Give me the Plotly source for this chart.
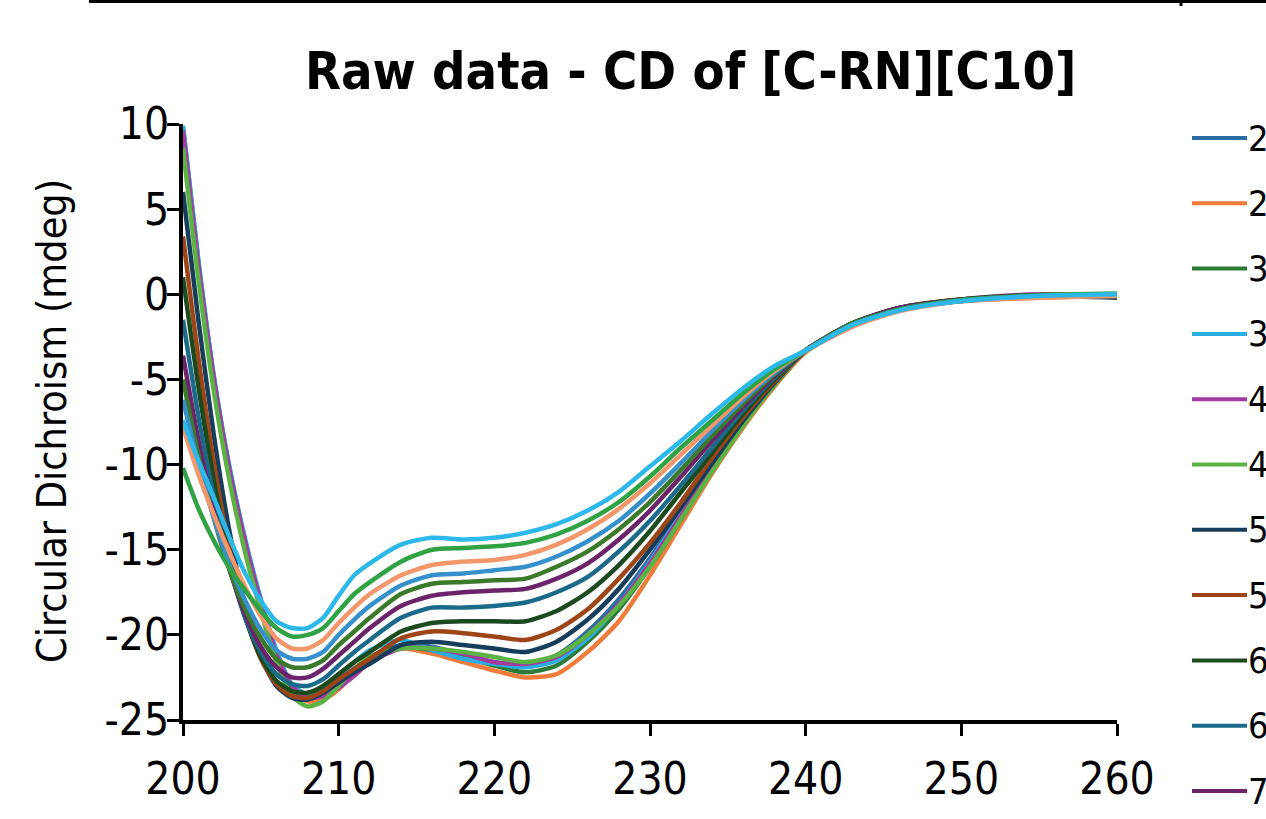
import plotly.graph_objects as go

# wavelength grid (nm) shared by every series
wavelength = [200, 201, 202, 203, 204, 205, 206, 207, 208, 209, 210, 211, 212,
              214, 216, 218, 220, 222, 224, 226, 228, 230, 232, 234, 236, 238,
              240, 243, 246, 250, 255, 260]

# CD signal (mdeg), one list per series
cd_20 = [9.8, 1.8, -5.0, -10.3, -14.5, -18.0, -21.0, -23.0, -23.6, -23.4, -22.8, -22.0, -21.3,
         -20.6, -20.7, -21.2, -21.6, -21.8, -21.2, -19.8, -17.9, -15.5, -12.8, -10.1, -7.5, -5.2,
         -3.3, -1.7, -0.9, -0.4, -0.1, -0.1]
cd_25 = [9.0, 1.2, -5.5, -10.8, -15.0, -18.5, -21.5, -23.3, -23.9, -23.8, -23.2, -22.2, -21.5,
         -20.8, -21.1, -21.6, -22.1, -22.5, -22.3, -21.0, -19.2, -16.5, -13.5, -10.5, -7.8, -5.4,
         -3.4, -1.9, -0.9, -0.4, -0.2, -0.1]
cd_30 = [9.5, 1.5, -5.2, -10.5, -14.7, -18.2, -21.2, -23.1, -23.7, -23.5, -22.9, -22.1, -21.4,
         -20.7, -20.9, -21.3, -21.8, -22.2, -21.8, -20.4, -18.5, -16.0, -13.2, -10.3, -7.6, -5.3,
         -3.3, -1.8, -0.9, -0.3, -0.1, 0.0]
cd_35 = [9.9, 1.9, -4.9, -10.2, -14.4, -17.9, -20.9, -22.9, -23.5, -23.2, -22.5, -21.6, -20.9,
         -20.3, -20.9, -21.4, -21.7, -21.9, -21.5, -20.2, -18.2, -15.7, -12.9, -10.1, -7.5, -5.2,
         -3.3, -1.8, -0.9, -0.4, -0.1, -0.1]
cd_40 = [9.6, 1.6, -5.1, -10.4, -14.6, -18.1, -21.1, -23.0, -23.7, -23.6, -23.1, -22.4, -21.6,
         -20.8, -20.8, -21.1, -21.6, -21.7, -21.3, -20.0, -18.2, -15.8, -13.0, -10.2, -7.5, -5.2,
         -3.3, -1.7, -0.8, -0.3, 0.0, -0.1]
cd_45 = [8.6, 0.8, -5.8, -11.0, -15.2, -18.6, -21.6, -23.6, -24.2, -23.9, -23.0, -22.0, -21.3,
         -20.8, -20.8, -21.0, -21.3, -21.6, -21.2, -20.0, -18.3, -16.0, -13.2, -10.4, -7.7, -5.3,
         -3.3, -1.8, -0.9, -0.35, -0.05, 0.0]
cd_50 = [6.0, -1.6, -8.4, -14.0, -18.3, -21.3, -23.0, -23.7, -23.8, -23.4, -22.8, -22.2, -21.7,
         -20.6, -20.4, -20.6, -20.8, -21.0, -20.4, -19.1, -17.3, -15.0, -12.5, -9.9, -7.4, -5.2,
         -3.3, -1.8, -0.9, -0.35, -0.1, -0.2]
cd_55 = [3.4, -3.8, -10.0, -15.0, -18.8, -21.4, -22.9, -23.6, -23.7, -23.3, -22.6, -22.0, -21.4,
         -20.2, -19.8, -19.9, -20.1, -20.3, -19.7, -18.5, -16.7, -14.6, -12.2, -9.6, -7.2, -5.1,
         -3.3, -1.8, -0.8, -0.3, -0.1, 0.0]
cd_60 = [1.0, -5.5, -11.0, -15.6, -19.0, -21.3, -22.7, -23.3, -23.4, -23.0, -22.3, -21.6, -21.0,
         -19.8, -19.3, -19.2, -19.2, -19.2, -18.6, -17.5, -15.9, -13.9, -11.6, -9.3, -7.0, -5.0,
         -3.3, -1.7, -0.8, -0.3, -0.05, -0.1]
cd_65 = [-1.5, -7.2, -12.0, -16.0, -19.0, -21.0, -22.3, -22.9, -23.0, -22.6, -21.8, -21.0, -20.3,
         -19.0, -18.4, -18.4, -18.3, -18.1, -17.5, -16.6, -15.1, -13.3, -11.2, -9.0, -6.8, -4.9,
         -3.3, -1.8, -0.9, -0.4, -0.1, -0.05]
cd_70 = [-3.6, -8.6, -12.8, -16.2, -18.8, -20.7, -21.9, -22.5, -22.5, -22.0, -21.2, -20.4, -19.6,
         -18.3, -17.7, -17.5, -17.4, -17.3, -16.7, -15.8, -14.4, -12.7, -10.7, -8.6, -6.6, -4.8,
         -3.3, -1.7, -0.8, -0.35, -0.05, -0.1]
cd_75 = [-5.0, -9.5, -13.2, -16.2, -18.5, -20.2, -21.4, -21.9, -21.9, -21.5, -20.6, -19.8, -19.0,
         -17.6, -17.0, -16.9, -16.8, -16.7, -16.0, -15.1, -13.8, -12.2, -10.3, -8.3, -6.4, -4.7,
         -3.3, -1.7, -0.9, -0.4, -0.1, -0.1]
cd_80 = [-6.2, -10.0, -13.2, -15.9, -18.0, -19.7, -20.9, -21.4, -21.4, -21.0, -20.0, -19.1, -18.3,
         -17.1, -16.5, -16.4, -16.2, -16.0, -15.4, -14.5, -13.3, -11.7, -9.9, -8.0, -6.2, -4.6,
         -3.3, -1.8, -0.9, -0.35, -0.1, 0.0]
cd_85 = [-7.8, -10.6, -13.0, -15.2, -17.2, -18.9, -20.2, -20.8, -20.8, -20.3, -19.3, -18.4, -17.6,
         -16.5, -15.9, -15.7, -15.6, -15.3, -14.7, -13.8, -12.6, -11.1, -9.4, -7.7, -6.0, -4.5,
         -3.3, -1.9, -1.0, -0.4, -0.2, -0.1]
cd_90 = [-10.2, -12.6, -14.5, -16.1, -17.4, -18.6, -19.6, -20.1, -20.0, -19.6, -18.6, -17.6, -16.9,
         -15.7, -15.0, -14.9, -14.8, -14.6, -14.1, -13.3, -12.2, -10.7, -9.0, -7.4, -5.8, -4.4,
         -3.3, -1.8, -0.9, -0.35, -0.05, 0.05]
cd_95 = [-7.4, -9.8, -12.0, -14.3, -16.4, -18.0, -19.2, -19.6, -19.6, -19.0, -17.7, -16.5, -15.8,
         -14.7, -14.3, -14.4, -14.3, -14.0, -13.5, -12.7, -11.6, -10.1, -8.6, -7.0, -5.5, -4.2,
         -3.3, -1.8, -0.95, -0.4, -0.1, 0.0]

labels = ["20 °C", "25 °C", "30 °C", "35 °C", "40 °C", "45 °C", "50 °C", "55 °C",
          "60 °C", "65 °C", "70 °C", "75 °C", "80 °C", "85 °C", "90 °C", "95 °C"]
colors = ["#2B6CA3", "#F07B3A", "#2C7A35", "#2AADE3", "#A33A9F", "#5BB344",
          "#163D5C", "#9E4517", "#1B4A1E", "#1B6A8A", "#6B236A", "#3A7A2A",
          "#3590CB", "#F3966A", "#2FA244", "#2DB8EC"]
series = [cd_20, cd_25, cd_30, cd_35, cd_40, cd_45, cd_50, cd_55,
          cd_60, cd_65, cd_70, cd_75, cd_80, cd_85, cd_90, cd_95]

x_ticks = [200, 210, 220, 230, 240, 250, 260]
y_ticks = [-25, -20, -15, -10, -5, 0, 5, 10]

FONT = "DejaVu Sans Condensed, DejaVu Sans, sans-serif"
W, H = 1266, 819
L, R, T, B = 183, 149, 124, 99
PW, PH = W - L - R, H - T - B


def px(x):
    # pixel column -> paper x
    return (x - L) / PW


def py(y):
    # pixel row -> paper y
    return (H - B - y) / PH


fig = go.Figure()
for name, vals, col in zip(labels, series, colors):
    fig.add_trace(go.Scatter(
        x=wavelength, y=vals, mode="lines", name=name,
        line=dict(color=col, width=4.5, shape="spline", smoothing=0.7),
        showlegend=False,
    ))

# legend drawn by hand so that it can run off the right edge like the crop
for i, (name, col) in enumerate(zip(labels, colors)):
    yc = 138 + 65.3 * i
    fig.add_shape(type="line", xref="paper", yref="paper",
                  x0=px(1192), x1=px(1247), y0=py(yc), y1=py(yc),
                  line=dict(color=col, width=4))
    fig.add_annotation(xref="paper", yref="paper", x=px(1246), y=py(yc),
                       text=name, showarrow=False, xanchor="left", yanchor="middle",
                       font=dict(size=36, color="black", family=FONT))

# title and y-axis title
fig.add_annotation(xref="paper", yref="paper", x=px(690), y=py(71),
                   text="<b>Raw data - CD of [C-RN][C10]</b>", showarrow=False,
                   xanchor="center", yanchor="middle",
                   font=dict(size=52, color="black", family=FONT))
fig.add_annotation(xref="paper", yref="paper", x=px(52), y=py(421),
                   text="Circular Dichroism (mdeg)", showarrow=False, textangle=-90,
                   xanchor="center", yanchor="middle",
                   font=dict(size=41, color="black", family=FONT))

# border of the box above, cut by the crop
fig.add_shape(type="line", xref="paper", yref="paper",
              x0=px(89), x1=px(1266), y0=py(1.5), y1=py(1.5),
              line=dict(color="black", width=3))
fig.add_shape(type="line", xref="paper", yref="paper",
              x0=px(1181), x1=px(1181), y0=py(0), y1=py(6),
              line=dict(color="black", width=3))

axis_common = dict(
    showline=True, linecolor="black", linewidth=4, mirror=False,
    ticks="outside", ticklen=12, tickwidth=3, tickcolor="black",
    showgrid=False, zeroline=False,
    tickfont=dict(size=44, color="black", family=FONT),
)
fig.update_xaxes(range=[200, 260], tickvals=x_ticks,
                 ticktext=[str(v) for v in x_ticks],
                 ticklabelstandoff=5, **axis_common)
fig.update_yaxes(range=[-25, 10], tickvals=y_ticks,
                 ticktext=[str(v) for v in y_ticks],
                 ticklabelstandoff=-11, **axis_common)

fig.update_layout(
    width=W, height=H, autosize=False,
    margin=dict(l=L, r=R, t=T, b=B, autoexpand=False),
    paper_bgcolor="white", plot_bgcolor="white",
    font=dict(family=FONT, color="black"),
)

fig.write_html("out.html", config={"displayModeBar": False},
               post_script="document.body.style.margin='0';"
                           "document.body.style.overflow='hidden';")
